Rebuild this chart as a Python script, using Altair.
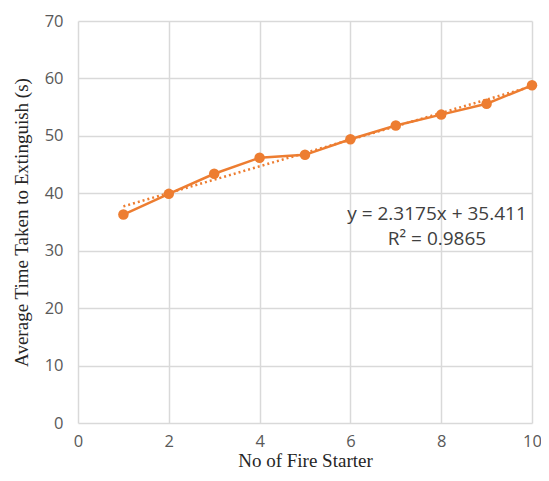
import altair as alt
import pandas as pd

starters = [1, 2, 3, 4, 5, 6, 7, 8, 9, 10]
avg_time = [36.3, 39.9, 43.4, 46.2, 46.7, 49.4, 51.8, 53.7, 55.6, 58.8]
eq_lines = ["y = 2.3175x + 35.411", "R² = 0.9865"]

df = pd.DataFrame({"x": starters, "y": avg_time})
ORANGE = "#ED7D31"

xs = alt.Scale(domain=[0, 10], nice=False)
ys = alt.Scale(domain=[0, 70], nice=False)

base = alt.Chart(df)

line = base.mark_line(color=ORANGE, strokeWidth=2.5).encode(
    x=alt.X("x:Q", scale=xs, title="No of Fire Starter",
            axis=alt.Axis(values=[0, 2, 4, 6, 8, 10])),
    y=alt.Y("y:Q", scale=ys, title="Average Time Taken to Extinguish (s)",
            axis=alt.Axis(values=[0, 10, 20, 30, 40, 50, 60, 70])),
)
pts = base.mark_circle(color=ORANGE, size=110, opacity=1).encode(
    x=alt.X("x:Q", scale=xs), y=alt.Y("y:Q", scale=ys)
)
trend = base.transform_regression("x", "y", method="linear").mark_line(
    color=ORANGE, strokeWidth=2.5, strokeDash=[2, 3]
).encode(x=alt.X("x:Q", scale=xs), y=alt.Y("y:Q", scale=ys))

eq = alt.Chart(pd.DataFrame({"t": [eq_lines[0]]})).mark_text(
    font="Open Sans", fontSize=19, color="#404040", align="center", baseline="middle"
).encode(text="t:N", x=alt.value(359), y=alt.value(193))
r2 = alt.Chart(pd.DataFrame({"t": [eq_lines[1]]})).mark_text(
    font="Open Sans", fontSize=19, color="#404040", align="center", baseline="middle"
).encode(text="t:N", x=alt.value(359), y=alt.value(218))

chart = (trend + line + pts + eq + r2).properties(
    width=454, height=402,
    autosize=alt.AutoSizeParams(type="none"),
    padding={"left": 70, "top": 13, "right": 9, "bottom": 50},
).configure_view(stroke=None).configure_axis(
    grid=True, gridColor="#d9d9d9", gridWidth=1.5,
    domain=False, ticks=False, labelFlush=False,
    labelFont="Open Sans", labelFontSize=16.5, labelColor="#595959", labelPadding=15,
    titleFont="Liberation Serif", titleFontSize=19, titleFontWeight="normal",
    titleColor="#262626",
).configure_axisY(titlePadding=13).configure_axisX(titlePadding=2, labelPadding=10)

chart.save("out.html", embed_options={"renderer": "svg", "actions": False})
